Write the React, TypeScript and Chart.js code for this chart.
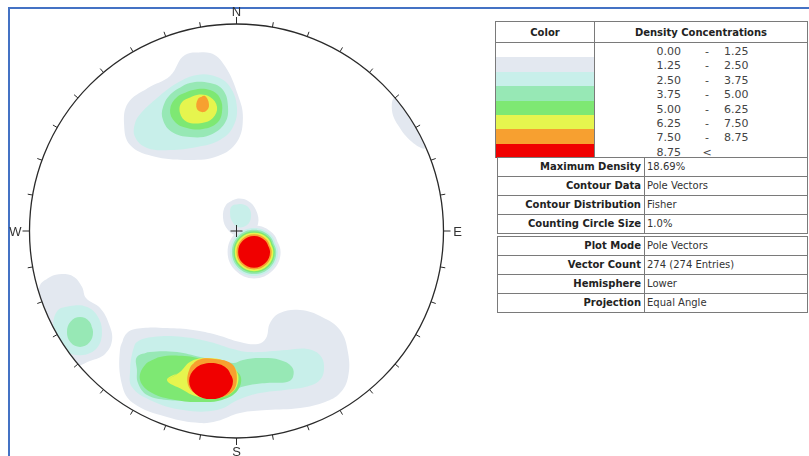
import React, { useEffect, useRef } from "react";
import { Chart, registerables } from "chart.js";
Chart.register(...registerables);

type Pt = [number, number];

// Contour level colours (0..7) and legend ranges
const levelColors = ["#FFFFFF", "#E3E8F0", "#C8EFEA", "#97E8B5", "#7EE873", "#E6F54E", "#F7A030", "#F00000"];
const rangeLow = ["0.00", "1.25", "2.50", "3.75", "5.00", "6.25", "7.50", "8.75"];
const rangeHigh = ["1.25", "2.50", "3.75", "5.00", "6.25", "7.50", "8.75", ""];

const infoLabels1 = ["Maximum Density", "Contour Data", "Contour Distribution", "Counting Circle Size"];
const infoValues1 = ["18.69%", "Pole Vectors", "Fisher", "1.0%"];
const infoLabels2 = ["Plot Mode", "Vector Count", "Hemisphere", "Projection"];
const infoValues2 = ["Pole Vectors", "274 (274 Entries)", "Lower", "Equal Angle"];

const cardinals: [string, number][] = [["N", 0], ["E", 90], ["S", 180], ["W", 270]];

// Contour outlines in projected stereonet coordinates (primitive circle radius = 100)
const north1: Pt[] = [[-24.9, 85.0], [-12.8, 86.0], [-5.6, 79.7], [0.7, 65.7], [3.1, 54.6], [0.2, 43.0], [-8.9, 36.2], [-22.5, 34.3], [-40.8, 36.2], [-51.4, 41.5], [-54.3, 51.2], [-52.4, 61.8], [-42.8, 69.1], [-32.1, 74.9]];
const north2: Pt[] = [[-45.7, 57.5], [-38.4, 64.3], [-28.7, 71.5], [-19.1, 75.4], [-9.4, 74.4], [-3.1, 69.6], [0.2, 59.9], [-1.7, 50.2], [-8.0, 44.0], [-19.1, 40.6], [-32.1, 39.1], [-43.2, 40.1], [-49.0, 45.4], [-49.0, 52.2]];
const north3: Pt[] = [[-31.2, 66.7], [-22.5, 71.5], [-12.8, 71.5], [-6.5, 68.1], [-4.1, 59.9], [-5.6, 52.2], [-12.8, 46.4], [-22.5, 45.4], [-31.2, 47.8], [-35.5, 53.6], [-35.5, 59.9]];
const north4: Pt[] = [[-28.7, 64.7], [-21.0, 68.1], [-12.8, 68.1], [-8.0, 64.3], [-7.0, 57.5], [-9.4, 52.2], [-16.2, 49.3], [-23.9, 49.8], [-29.7, 52.7], [-32.1, 58.5]];
const north5: Pt[] = [[-26.3, 62.3], [-19.1, 65.7], [-12.8, 64.7], [-9.4, 59.9], [-11.4, 54.6], [-16.7, 52.2], [-23.9, 52.7], [-27.3, 57.0]];
const north6: Pt[] = [[-18.6, 63.8], [-15.2, 65.2], [-13.3, 60.4], [-15.7, 57.5], [-19.1, 58.9]];

const northEast1: Pt[] = [[76.6, 64.7], [83.8, 61.8], [88.6, 51.2], [91.1, 40.1], [84.8, 43.0], [78.0, 51.2], [75.1, 58.5]];

const centre1: Pt[] = [[-5.1, 12.6], [-0.2, 15.5], [5.6, 14.5], [9.4, 10.1], [10.4, 3.4], [6.5, -1.4], [0.7, -2.4], [-4.1, 0.5], [-6.5, 6.3]];
const centre2: Pt[] = [[-2.2, 12.1], [2.2, 13.0], [6.0, 11.1], [7.0, 6.8], [5.1, 2.9], [0.7, 1.9], [-2.2, 4.8], [-3.1, 8.7]];

const pole1: Pt[] = [[21.3, -10.1], [17.5, -1.1], [8.5, 2.7], [-0.5, -1.1], [-4.3, -10.1], [-0.5, -19.1], [8.5, -22.9], [17.5, -19.1]];
const pole2: Pt[] = [[20.1, -10.1], [16.7, -1.9], [8.5, 1.5], [0.3, -1.9], [-3.1, -10.1], [0.3, -18.3], [8.5, -21.7], [16.7, -18.3]];
const pole3: Pt[] = [[19.2, -10.1], [16.1, -2.5], [8.5, 0.6], [0.9, -2.5], [-2.2, -10.1], [0.9, -17.7], [8.5, -20.8], [16.1, -17.7]];
const pole4: Pt[] = [[18.5, -10.1], [15.6, -3.0], [8.5, -0.1], [1.4, -3.0], [-1.5, -10.1], [1.4, -17.2], [8.5, -20.1], [15.6, -17.2]];
const pole5: Pt[] = [[17.8, -10.1], [15.1, -3.5], [8.5, -0.8], [1.9, -3.5], [-0.8, -10.1], [1.9, -16.7], [8.5, -19.4], [15.1, -16.7]];
const pole6: Pt[] = [[17.0, -10.1], [14.5, -4.1], [8.5, -1.6], [2.5, -4.1], [0.0, -10.1], [2.5, -16.1], [8.5, -18.6], [14.5, -16.1]];
const pole7: Pt[] = [[16.2, -10.1], [13.9, -4.7], [8.5, -2.4], [3.0, -4.7], [0.8, -10.1], [3.0, -15.5], [8.5, -17.8], [13.9, -15.5]];

const west1: Pt[] = [[-94.9, -26.1], [-90.1, -22.2], [-84.3, -20.8], [-78.5, -22.2], [-74.6, -27.1], [-72.7, -32.4], [-65.9, -37.2], [-61.6, -44.9], [-60.1, -52.7], [-63.5, -59.4], [-70.8, -62.8], [-79.5, -65.2], [-90.1, -55.1], [-97.3, -38.2]];
const west2: Pt[] = [[-86.2, -38.2], [-80.4, -36.2], [-72.2, -36.7], [-66.9, -41.5], [-65.0, -49.3], [-67.4, -56.5], [-74.2, -59.9], [-81.9, -58.5], [-86.7, -53.6], [-88.6, -45.9]];
const west3: Pt[] = [[-69.3, -48.8], [-71.1, -43.7], [-75.6, -41.6], [-80.1, -43.7], [-81.9, -48.8], [-80.1, -53.9], [-75.6, -56.0], [-71.1, -53.9]];

const south1: Pt[] = [[-56.3, -57.5], [-52.9, -49.3], [-45.2, -46.9], [-33.6, -46.9], [-21.0, -47.8], [-9.4, -50.2], [1.7, -53.6], [10.4, -54.6], [14.3, -51.7], [16.2, -44.4], [21.0, -39.6], [30.7, -38.2], [41.3, -41.5], [50.0, -47.8], [53.9, -58.9], [53.9, -70.5], [50.0, -78.3], [42.8, -82.6], [30.7, -85.5], [14.7, -86.5], [1.7, -87.9], [-9.4, -91.8], [-17.6, -92.8], [-33.6, -89.9], [-50.0, -83.1], [-55.3, -74.4]];
const south2: Pt[] = [[-50.0, -57.5], [-48.1, -53.6], [-40.3, -51.2], [-25.8, -51.2], [-12.8, -53.6], [-1.7, -57.0], [6.5, -58.5], [24.4, -57.5], [34.1, -57.0], [40.3, -59.9], [42.3, -65.7], [40.3, -72.0], [33.1, -75.4], [23.4, -76.8], [11.4, -78.3], [1.7, -81.2], [-9.4, -86.5], [-25.8, -86.5], [-41.8, -81.6], [-50.5, -75.4], [-51.4, -67.1]];
const south3: Pt[] = [[-48.1, -60.9], [-41.8, -58.5], [-28.7, -58.5], [-17.6, -60.9], [-1.7, -63.8], [3.1, -62.3], [11.4, -61.4], [21.0, -62.3], [26.8, -65.7], [27.3, -70.5], [24.4, -72.9], [14.7, -73.4], [6.5, -74.4], [-1.7, -76.8], [-9.4, -80.2], [-21.0, -81.6], [-33.6, -81.6], [-43.2, -79.2], [-47.6, -73.4], [-48.1, -67.1]];
const south4: Pt[] = [[-44.2, -64.7], [-37.0, -60.9], [-24.9, -60.4], [-15.2, -62.3], [-5.6, -64.7], [1.7, -69.6], [0.7, -76.8], [-7.0, -81.6], [-17.6, -82.6], [-29.7, -81.6], [-40.8, -78.3], [-46.6, -72.0]];
const south5: Pt[] = [[-33.6, -72.0], [-27.3, -68.1], [-22.5, -63.3], [-15.2, -61.4], [-5.6, -62.8], [-0.2, -67.1], [0.7, -73.4], [-3.1, -78.7], [-11.8, -80.7], [-20.0, -79.7], [-25.8, -76.8]];
const south6: Pt[] = [[-22.5, -66.2], [-18.6, -62.3], [-10.4, -61.8], [-2.2, -64.3], [0.2, -71.0], [-2.2, -77.8], [-10.4, -80.7], [-18.6, -79.2], [-23.4, -74.4]];
const south7: Pt[] = [[-1.7, -72.5], [-4.8, -66.3], [-12.3, -63.8], [-19.8, -66.3], [-22.9, -72.5], [-19.8, -78.7], [-12.3, -81.2], [-4.8, -78.7]];

const contours: { level: number; pts: Pt[] }[] = [
  { level: 1, pts: north1 }, { level: 2, pts: north2 }, { level: 3, pts: north3 }, { level: 4, pts: north4 }, { level: 5, pts: north5 }, { level: 6, pts: north6 },
  { level: 1, pts: northEast1 },
  { level: 1, pts: centre1 }, { level: 2, pts: centre2 },
  { level: 1, pts: pole1 }, { level: 2, pts: pole2 }, { level: 3, pts: pole3 }, { level: 4, pts: pole4 }, { level: 5, pts: pole5 }, { level: 6, pts: pole6 }, { level: 7, pts: pole7 },
  { level: 1, pts: west1 }, { level: 2, pts: west2 }, { level: 3, pts: west3 },
  { level: 1, pts: south1 }, { level: 2, pts: south2 }, { level: 3, pts: south3 }, { level: 4, pts: south4 }, { level: 5, pts: south5 }, { level: 6, pts: south6 }, { level: 7, pts: south7 },
];

const stereoPlugin = {
  id: "stereo",
  beforeDatasetsDraw(chart: any) {
    const { ctx, scales } = chart;
    const cx = scales.x.getPixelForValue(0);
    const cy = scales.y.getPixelForValue(0);
    const r = scales.x.getPixelForValue(100) - cx;
    ctx.save();
    ctx.beginPath();
    ctx.arc(cx, cy, r, 0, Math.PI * 2);
    ctx.clip();
  },
  afterDatasetsDraw(chart: any) {
    const { ctx, scales } = chart;
    ctx.restore();
    const cx = scales.x.getPixelForValue(0);
    const cy = scales.y.getPixelForValue(0);
    const r = scales.x.getPixelForValue(100) - cx;
    ctx.save();
    ctx.strokeStyle = "#2a2a2a";
    ctx.lineWidth = 1.3;
    ctx.beginPath();
    ctx.arc(cx, cy, r, 0, Math.PI * 2);
    ctx.stroke();
    ctx.lineWidth = 1;
    for (let a = 0; a < 360; a += 10) {
      const rad = (a * Math.PI) / 180;
      const dx = Math.sin(rad);
      const dy = -Math.cos(rad);
      const len = a % 90 === 0 ? 7 : 5;
      ctx.beginPath();
      ctx.moveTo(cx + dx * r, cy + dy * r);
      ctx.lineTo(cx + dx * (r + len), cy + dy * (r + len));
      ctx.stroke();
    }
    // centre cross
    ctx.beginPath();
    ctx.moveTo(cx - 6, cy);
    ctx.lineTo(cx + 6, cy);
    ctx.moveTo(cx, cy - 6);
    ctx.lineTo(cx, cy + 6);
    ctx.stroke();
    ctx.fillStyle = "#333";
    ctx.font = "13px 'Liberation Sans', Arial, sans-serif";
    ctx.textAlign = "center";
    ctx.textBaseline = "middle";
    for (const [lab, a] of cardinals) {
      const rad = (a * Math.PI) / 180;
      const dx = Math.sin(rad);
      const dy = -Math.cos(rad);
      const off = a === 0 || a === 180 ? 13 : 14;
      ctx.fillText(lab, cx + dx * (r + off), cy + dy * (r + off) + 1);
    }
    ctx.restore();
  },
};

export default function App() {
  const ref = useRef<HTMLCanvasElement>(null);
  useEffect(() => {
    const canvas = ref.current;
    if (!canvas) return;
    const datasets = contours.map((c) => ({
      data: [...c.pts, c.pts[0], c.pts[1]].map(([x, y]) => ({ x, y })),
      showLine: true,
      fill: "shape",
      backgroundColor: levelColors[c.level],
      borderColor: "rgba(0,0,0,0)",
      borderWidth: 0,
      pointRadius: 0,
      tension: 0.4,
      order: 7 - c.level,
    }));
    const chart = new Chart(canvas, {
      type: "scatter",
      data: { datasets } as any,
      options: {
        animation: false,
        responsive: false,
        events: [],
        layout: { padding: { left: 29.5, right: 50.5, top: 24, bottom: 18 } },
        scales: {
          x: { type: "linear", min: -100, max: 100, display: false },
          y: { type: "linear", min: -100, max: 100, display: false },
        },
        plugins: { legend: { display: false }, tooltip: { enabled: false } },
      },
      plugins: [stereoPlugin],
    } as any);
    return () => chart.destroy();
  }, []);

  const rowH = 115 / 8;
  const line = "#7a7a7a";
  const numFont = "11px 'DejaVu Sans', Verdana, sans-serif";
  const boldFont = "bold 10px 'DejaVu Sans', Verdana, sans-serif";
  const valFont = "10px 'DejaVu Sans', Verdana, sans-serif";

  const infoBlock = (top: number, labels: string[], values: string[]) => (
    <>
      <div style={{ position: "absolute", left: 497, top, width: 311, height: 77, border: `1px solid ${line}`, boxSizing: "border-box" }} />
      <div style={{ position: "absolute", left: 644, top, width: 1, height: 77, background: line }} />
      {labels.map((l, i) => (
        <React.Fragment key={l}>
          {i > 0 && <div style={{ position: "absolute", left: 497, top: top + i * 19, width: 311, height: 1, background: line }} />}
          <div style={{ position: "absolute", font: boldFont, lineHeight: "18px", left: 498, top: top + i * 19 + 1, width: 143, height: 18, textAlign: "right", color: "#222", whiteSpace: "nowrap" }}>{l}</div>
          <div style={{ position: "absolute", font: valFont, lineHeight: "18px", left: 647, top: top + i * 19 + 1, width: 160, height: 18, color: "#333", whiteSpace: "nowrap" }}>{values[i]}</div>
        </React.Fragment>
      ))}
    </>
  );

  return (
    <div style={{ position: "fixed", left: 0, top: 0, width: 809, height: 456, overflow: "hidden", background: "#fff" }}>
      <div style={{ position: "absolute", left: 8, top: 7, width: 900, height: 600, border: "2px solid #4472C4", boxSizing: "border-box" }} />
      <canvas ref={ref} width={494} height={456} style={{ position: "absolute", left: 0, top: 0, width: 494, height: 456 }} />
      {/* legend table */}
      <div style={{ position: "absolute", left: 495, top: 21, width: 313, height: 137, border: `1px solid ${line}`, boxSizing: "border-box" }} />
      <div style={{ position: "absolute", left: 495, top: 42, width: 313, height: 1, background: line }} />
      <div style={{ position: "absolute", left: 594, top: 21, width: 1, height: 137, background: line }} />
      <div style={{ position: "absolute", font: boldFont, lineHeight: "20px", left: 496, top: 23, width: 98, height: 20, textAlign: "center", color: "#222" }}>Color</div>
      <div style={{ position: "absolute", font: boldFont, lineHeight: "20px", left: 595, top: 23, width: 212, height: 20, textAlign: "center", color: "#222" }}>Density Concentrations</div>
      {rangeLow.map((lo, i) => (
        <React.Fragment key={lo + i}>
          <div style={{ position: "absolute", left: 496, top: 43 + i * rowH, width: 98, height: rowH, background: levelColors[i] }} />
          <div style={{ position: "absolute", font: numFont, lineHeight: `${rowH}px`, left: 630, top: 45 + i * rowH, width: 51, height: rowH, textAlign: "right", color: "#444" }}>{lo}</div>
          <div style={{ position: "absolute", font: numFont, lineHeight: `${rowH}px`, left: 700, top: 45 + i * rowH, width: 14, height: rowH, textAlign: "center", color: "#444" }}>{rangeHigh[i] ? "-" : "<"}</div>
          <div style={{ position: "absolute", font: numFont, lineHeight: `${rowH}px`, left: 724, top: 45 + i * rowH, width: 60, height: rowH, color: "#444" }}>{rangeHigh[i]}</div>
        </React.Fragment>
      ))}
      {infoBlock(157, infoLabels1, infoValues1)}
      {infoBlock(236, infoLabels2, infoValues2)}
    </div>
  );
}
